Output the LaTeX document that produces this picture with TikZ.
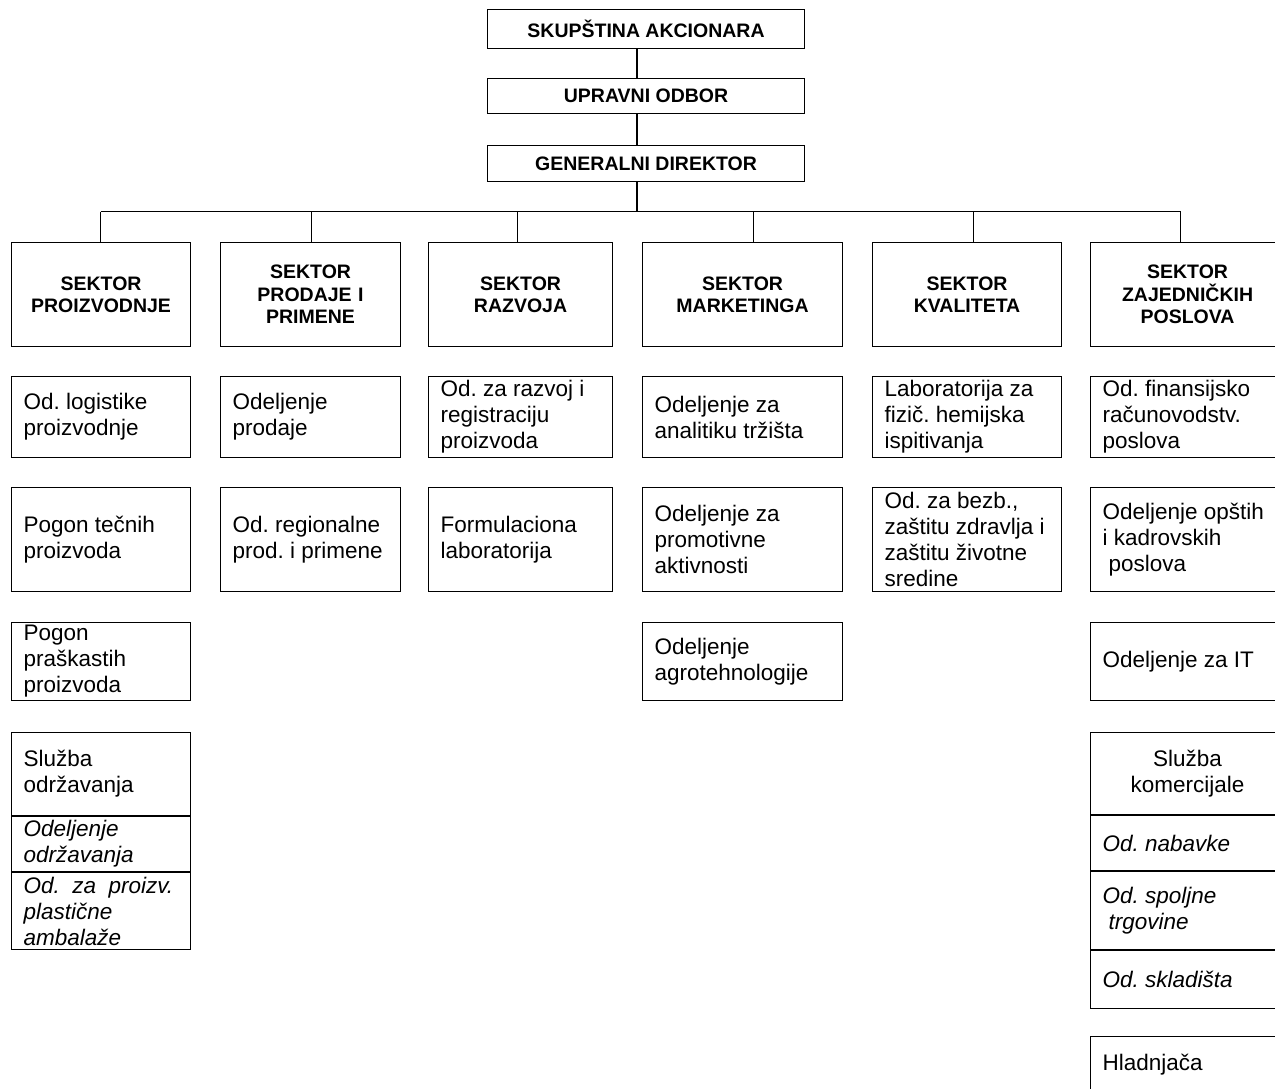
\documentclass[tikz,border=0pt]{standalone}
\usepackage{fontspec}
\setmainfont{Liberation Sans}
\usetikzlibrary{positioning}
\frenchspacing

\begin{document}
\begin{tikzpicture}[x=1pt,y=-1pt,line width=1.1pt,
    top/.style={draw, anchor=north west, minimum width=317pt, inner sep=0pt,
        font=\bfseries\fontsize{19.5}{22.5}\selectfont},
    sector/.style={draw, anchor=north west, minimum height=104pt, inner xsep=8pt,
        inner ysep=0pt, align=center, font=\bfseries\fontsize{19.5}{22.5}\selectfont},
    unit/.style={draw, anchor=north west, inner xsep=12pt, inner ysep=0pt,
        align=flush left, font=\fontsize{22.5}{26}\selectfont},
    sub/.style={unit, font=\itshape\fontsize{22.5}{26}\selectfont},
    colA/.style={text width=155pt},
    colB/.style={text width=156pt},
    colC/.style={text width=160pt},
    colD/.style={text width=176pt},
    colE/.style={text width=165pt},
    colF/.style={text width=170pt}]
    \useasboundingbox (0,0) rectangle (1275,1089);
    \fill[white] (0,0) rectangle (1275,1089);
    \clip (0,0) rectangle (1275,1089);

    % uprava
    \node[top, minimum height=39pt] (sa) at (487,9) {SKUPŠTINA AKCIONARA};
    \node[top, minimum height=35pt] (uo) at (487,78) {UPRAVNI ODBOR};
    \node[top, minimum height=36pt] (gd) at (487,145) {GENERALNI DIREKTOR};
    \coordinate (trunk) at (637,211.5);

    % sektori
    \node[sector, text width=163pt] (s1) at (11,242) {SEKTOR\\PROIZVODNJE};
    \node[sector, text width=164pt] (s2) at (220,242) {SEKTOR\\PRODAJE I\\PRIMENE};
    \node[sector, text width=168pt] (s3) at (428,242) {SEKTOR\\RAZVOJA};
    \node[sector, text width=184pt] (s4) at (642,242) {SEKTOR\\MARKETINGA};
    \node[sector, text width=173pt] (s5) at (872,242) {SEKTOR\\KVALITETA};
    \node[sector, text width=178pt] (s6) at (1090,242) {SEKTOR\\ZAJEDNIČKIH\\POSLOVA};

    % proizvodnja
    \node[unit, colA, minimum height=81pt] (p1) at (11,376) {Od. logistike\\proizvodnje};
    \node[unit, colA, minimum height=104pt] (p2) at (11,487) {Pogon tečnih\\proizvoda};
    \node[unit, colA, minimum height=78pt] (p3) at (11,622) {Pogon\\praškastih\\proizvoda};
    \node[unit, colA, minimum height=83pt] (p4) at (11,732) {Služba\\održavanja};
    \node[sub, colA, minimum height=55pt, below=0pt of p4] (p5) {Odeljenje\\održavanja};
    \node[sub, colA, minimum height=77pt, below=0pt of p5] (p6) {Od.~~za~~proizv.\\plastične\\ambalaže};

    % prodaja
    \node[unit, colB, minimum height=81pt] (pr1) at (220,376) {Odeljenje\\prodaje};
    \node[unit, colB, minimum height=104pt] (pr2) at (220,487) {Od. regionalne\\prod. i primene};

    % razvoj
    \node[unit, colC, minimum height=81pt] (r1) at (428,376) {Od. za razvoj i\\registraciju\\proizvoda};
    \node[unit, colC, minimum height=104pt] (r2) at (428,487) {Formulaciona\\laboratorija};

    % marketing
    \node[unit, colD, minimum height=81pt] (m1) at (642,376) {Odeljenje za\\analitiku tržišta};
    \node[unit, colD, minimum height=104pt] (m2) at (642,487) {Odeljenje za\\promotivne\\aktivnosti};
    \node[unit, colD, minimum height=78pt] (m3) at (642,622) {Odeljenje\\agrotehnologije};

    % kvalitet
    \node[unit, colE, minimum height=81pt] (k1) at (872,376) {Laboratorija za\\fizič. hemijska\\ispitivanja};
    \node[unit, colE, minimum height=104pt] (k2) at (872,487) {Od. za bezb.,\\zaštitu zdravlja i\\zaštitu životne\\sredine};

    % zajednicki poslovi
    \node[unit, colF, minimum height=81pt] (z1) at (1090,376) {Od. finansijsko\\računovodstv.\\poslova};
    \node[unit, colF, minimum height=104pt] (z2) at (1090,487) {Odeljenje opštih\\i kadrovskih\\\hspace*{6pt}poslova};
    \node[unit, colF, minimum height=78pt] (z3) at (1090,622) {Odeljenje za IT};
    \node[unit, colF, minimum height=82pt, align=center] (z4) at (1090,732) {Služba\\komercijale};
    \node[sub, colF, minimum height=55pt, below=0pt of z4] (z5) {Od. nabavke};
    \node[sub, colF, minimum height=78pt, below=0pt of z5] (z6) {Od. spoljne\\\hspace*{6pt}trgovine};
    \node[sub, colF, minimum height=58pt, below=0pt of z6] (z7) {Od. skladišta};
    \node[unit, colF, minimum height=56pt] (z8) at (1090,1036) {Hladnjača};

    % veze
    \draw (sa.south -| trunk) -- (uo.north -| trunk);
    \draw (uo.south -| trunk) -- (gd.north -| trunk);
    \draw (gd.south -| trunk) -- (trunk);
    \draw ([xshift=-0.5pt]s1.north |- trunk) -- ([xshift=-7pt]s6.north |- trunk);
    \foreach \s/\dx in {s1/-0.5,s2/1,s3/-3,s4/11,s5/6,s6/-7}
        \draw ([xshift=\dx pt]\s.north |- trunk) -- ([xshift=\dx pt]\s.north);
\end{tikzpicture}
\end{document}
